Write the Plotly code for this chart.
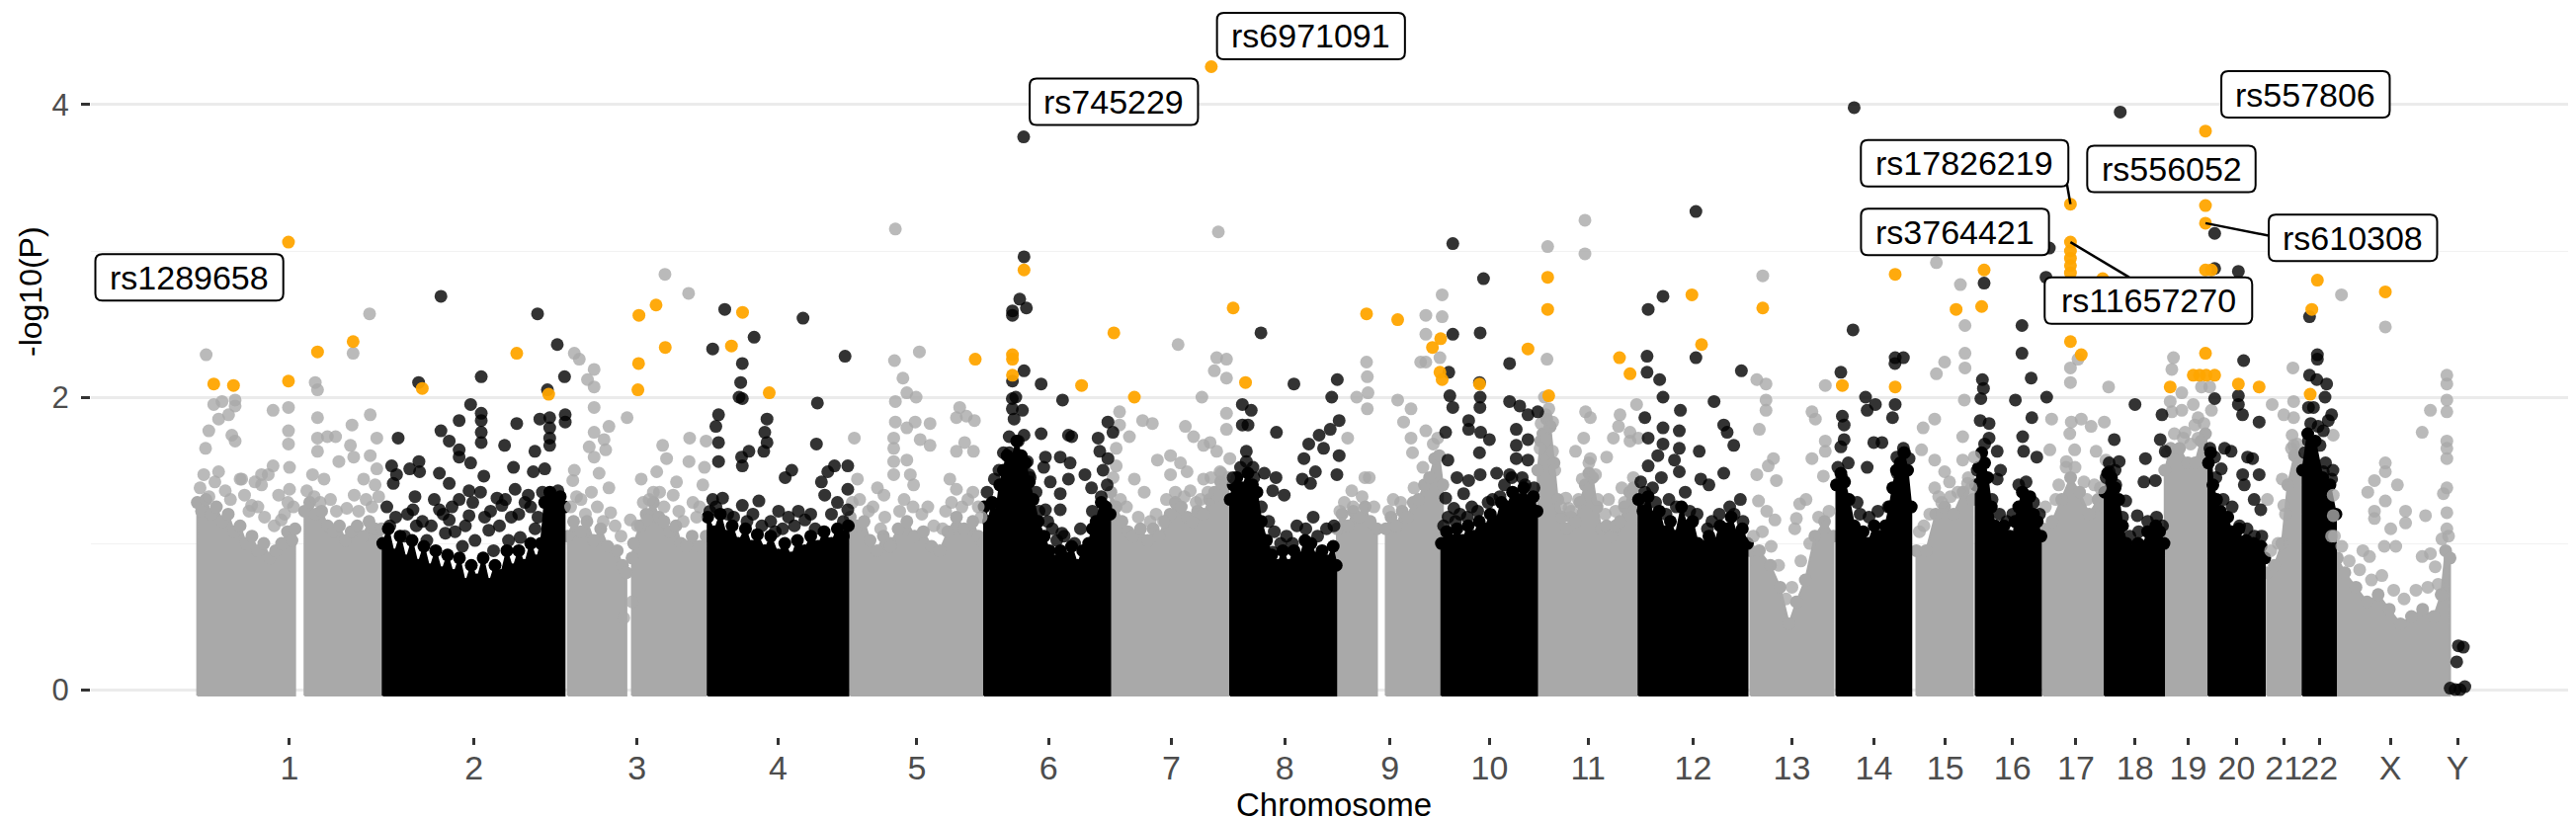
"""
Manhattan plot: -log10(P) along the genome, suggestive SNPs in orange, top hits labelled
"""
import plotly.graph_objects as go

############ DATA ############
# x = cumulative genome position (Mb), y = -log10(P)

CHROMS = ['1', '2', '3', '4', '5', '6', '7', '8', '9', '10', '11', '12',
          '13', '14', '15', '16', '17', '18', '19', '20', '21', '22', 'X', 'Y']

# top edge of the dense cloud of each chromosome (None = gap, e.g. centromere)
ENV_1 = [(2.2, 1.28), (8, 1.22), (14, 1.3), (21, 1.2), (28, 1.25), (36, 1.15), (44, 1.2), (52, 1.08), (60, 1.12),
         (68, 1.0), (76, 1.05), (84, 0.95), (92, 1.0), (100, 0.9), (108, 0.95), (116, 1.0), (124, 1.08), (130, 1.02),
         (134.2, 1.1), None, (147, 1.22), (154, 1.28), (162, 1.2), (170, 1.22), (178, 1.12), (186, 1.08),
         (194, 1.12), (202, 1.02), (210, 1.08), (218, 1.12), (226, 1.05), (234, 1.15), (242, 1.1), (251, 1.1)]
ENV_2 = [(252.5, 1.0), (260, 1.1), (268, 0.92), (276, 1.05), (284, 0.88), (292, 1.02), (300, 0.85), (308, 0.98),
         (316, 0.82), (324, 0.95), (332, 0.8), (340, 0.92), (348, 0.78), (356, 0.9), (364, 0.72), (372, 0.85),
         (380, 0.75), (388, 0.9), (396, 0.72), (404, 0.85), (412, 0.78), (420, 0.95), (428, 0.82), (436, 0.95),
         (444, 0.85), (452, 1.0), (460, 0.88), (466, 1.0), (471, 1.28), (478, 1.35), (485, 1.28), (492, 1.32),
         (497.8, 1.25)]
ENV_3 = [(502.2, 1.05), (510, 1.15), (520, 1.08), (528, 1.15), (537, 1.02), (546.6, 1.1), (556, 0.98),
         (568.8, 0.95), (576, 0.85), (581.2, 0.8), None, (588.8, 0.9), (591, 1.0), (600, 1.12), (608, 1.2),
         (617.7, 1.28), (625, 1.18), (632, 1.15), (640, 1.08), (648, 1.12), (655, 1.0), (662, 0.98), (670, 1.05),
         (680, 0.98), (688.8, 1.05)]
ENV_4 = [(691, 1.18), (700, 1.08), (708, 1.2), (716, 1.05), (724, 1.12), (732, 1.0), (742, 1.1), (750, 0.98),
         (758, 1.06), (768, 0.95), (776, 1.05), (786, 0.92), (795, 1.0), (804, 0.9), (812, 1.02), (822, 0.95),
         (830, 1.05), (840, 0.98), (848, 1.08), (858, 1.0), (866, 1.1), (874, 1.05), (880.7, 1.12)]
ENV_5 = [(883.3, 1.18), (892, 1.12), (902, 1.15), (910, 1.02), (919.7, 0.95), (928, 1.05), (937.7, 1.0),
         (948, 1.1), (959.7, 1.15), (970, 1.05), (982, 1.08), (993, 0.98), (1004, 0.95), (1015, 1.08),
         (1026.6, 1.18), (1037, 1.1), (1048.8, 1.15), (1056, 1.05), (1063, 1.0)]
ENV_6 = [(1064, 1.25), (1070, 1.15), (1075, 1.28), (1080, 1.2), (1085, 1.4), (1090, 1.5), (1095, 1.6),
         (1100, 1.55), (1108, 1.7), (1114, 1.6), (1120, 1.55), (1125, 1.42), (1130, 1.3), (1137, 1.15),
         (1145, 1.05), (1152, 0.95), (1160, 0.88), (1167, 0.95), (1175, 0.9), (1182, 0.98), (1190, 0.85),
         (1197, 0.95), (1205, 1.0), (1210, 1.1), (1215, 1.15), (1222, 1.28), (1228, 1.25), (1234, 1.2)]
ENV_7 = [(1235, 1.35), (1242, 1.25), (1250, 1.15), (1258, 1.08), (1265, 1.05), (1275, 1.1), (1285, 1.02),
         (1292, 1.1), (1300, 1.05), (1308, 1.15), (1315, 1.2), (1322, 1.28), (1330, 1.25), (1338, 1.18),
         (1345, 1.15), (1352, 1.22), (1360, 1.2), (1368, 1.3), (1375, 1.35), (1383, 1.42), (1390, 1.4), (1398, 1.3)]
ENV_8 = [(1396, 1.3), (1400, 1.4), (1405, 1.45), (1412, 1.38), (1420, 1.48), (1426, 1.4), (1432, 1.35),
         (1438, 1.15), (1445, 1.02), (1452, 0.92), (1460, 0.85), (1467, 0.95), (1475, 0.85), (1482, 0.95),
         (1490, 0.9), (1497, 1.02), (1505, 1.0), (1512, 0.9), (1520, 0.95), (1527, 0.88), (1535, 0.98), (1539, 0.85)]
ENV_9 = [(1540, 1.1), (1547, 1.2), (1555, 1.12), (1562, 1.22), (1570, 1.18), (1578, 1.25), (1585, 1.15),
         (1594, 1.1), None, (1606, 1.1), (1613, 1.18), (1620, 1.12), (1628, 1.22), (1635, 1.18), (1643, 1.28),
         (1650, 1.3), (1658, 1.4), (1665, 1.45), (1672, 1.58), (1678, 1.6), (1683, 1.4)]
ENV_10 = [(1681, 1.0), (1688, 1.08), (1695, 1.02), (1702, 1.1), (1710, 1.02), (1717, 1.12), (1725, 1.05),
          (1732, 1.15), (1740, 1.1), (1747, 1.2), (1755, 1.15), (1762, 1.28), (1770, 1.25), (1777, 1.35),
          (1785, 1.3), (1792, 1.38), (1800, 1.28), (1805, 1.32), (1810, 1.22)]
ENV_11 = [(1811, 1.5), (1815, 1.7), (1818, 1.75), (1823, 1.85), (1828, 1.8), (1833, 1.55), (1838, 1.3),
          (1844, 1.18), (1850, 1.1), (1856, 1.18), (1862, 1.15), (1868, 1.28), (1875, 1.4), (1880, 1.48),
          (1885, 1.45), (1891, 1.25), (1897, 1.1), (1904, 1.12), (1910, 1.05), (1916, 1.12), (1922, 1.15),
          (1928, 1.25), (1935, 1.35), (1940, 1.38), (1945, 1.3)]
ENV_12 = [(1947, 1.3), (1953, 1.22), (1960, 1.32), (1967, 1.18), (1975, 1.22), (1982, 1.08), (1990, 1.15),
          (1997, 1.05), (2005, 1.25), (2012, 1.12), (2020, 1.15), (2027, 1.0), (2035, 0.98), (2042, 1.05),
          (2050, 1.0), (2057, 1.12), (2065, 1.1), (2072, 1.18), (2080, 1.05), (2087, 1.1), (2094, 1.0)]
ENV_13 = [(2098, 0.95), (2110, 0.95), (2125, 0.85), (2138, 0.7), (2150, 0.45), (2160, 0.6), (2172, 0.75),
          (2185, 1.05), (2198, 1.15), (2210, 1.05)]
ENV_14 = [(2214, 1.4), (2220, 1.48), (2225, 1.42), (2231, 1.3), (2238, 1.12), (2244, 1.05), (2250, 1.08),
          (2257, 1.0), (2265, 1.12), (2272, 1.05), (2280, 1.12), (2286, 1.25), (2290, 1.38), (2295, 1.5),
          (2300, 1.55), (2305, 1.62), (2310, 1.5), (2315, 1.25)]
ENV_15 = [(2322, 0.95), (2335, 0.95), (2348, 1.2), (2360, 1.25), (2372, 1.2), (2385, 1.35), (2398, 1.3)]
ENV_16 = [(2402, 1.4), (2406, 1.52), (2410, 1.62), (2414, 1.55), (2418, 1.45), (2423, 1.25), (2428, 1.12),
          (2434, 1.08), (2440, 1.12), (2444, 1.02), (2448, 1.05), (2452, 1.0), (2455, 1.15), (2460, 1.25),
          (2465, 1.35), (2470, 1.28), (2475, 1.32), (2480, 1.2), (2485, 1.15), (2490, 1.05)]
ENV_17 = [(2493, 1.1), (2505, 1.15), (2518, 1.3), (2530, 1.45), (2542, 1.35), (2555, 1.2), (2567, 1.3), (2575, 1.25)]
ENV_18 = [(2576, 1.35), (2580, 1.48), (2585, 1.45), (2590, 1.38), (2595, 1.3), (2600, 1.12), (2605, 1.0),
          (2610, 0.95), (2615, 0.9), (2621, 1.0), (2628, 0.98), (2634, 1.08), (2640, 1.02), (2645, 1.12),
          (2650, 1.08), (2656, 1.0)]
ENV_19 = [(2657, 1.5), (2665, 1.65), (2677, 1.65), (2688, 1.55), (2698, 1.55), (2706, 1.7), (2712, 1.75), (2715, 1.6)]
ENV_20 = [(2716, 1.55), (2719, 1.62), (2722, 1.4), (2727, 1.3), (2732, 1.22), (2737, 1.15), (2742, 1.18),
          (2747, 1.08), (2752, 1.05), (2757, 1.1), (2762, 1.0), (2767, 1.02), (2772, 0.95), (2777, 1.0),
          (2782, 0.95), (2787, 0.98), (2792, 0.9)]
ENV_21 = [(2795, 0.8), (2805, 0.85), (2815, 1.0), (2823, 1.4), (2832, 1.6), (2840, 1.55)]
ENV_22 = [(2843, 1.5), (2850, 1.75), (2860, 1.7), (2870, 1.45), (2880, 1.4), (2888, 1.2)]
ENV_X = [(2881, 0.95), (2890, 0.9), (2900, 0.8), (2915, 0.7), (2930, 0.6), (2945, 0.65), (2960, 0.55),
         (2975, 0.45), (2990, 0.5), (3005, 0.55), (3020, 0.5), (3030, 0.65), (3036, 0.95), (3042, 0.9)]
ENV_Y = []

# SNPs standing out of the dense cloud
SNP_1 = [(14.2, 2.29), (161.4, 2.10), (164.5, 2.05), (212.5, 2.30), (234.7, 2.57), (24.5, 1.95), (35.6, 1.97),
         (53.3, 1.98), (53.3, 1.94), (44.5, 1.88), (31.1, 1.85), (104.5, 1.91), (125.3, 1.93), (235.6, 1.88),
         (164.5, 1.86), (211, 1.81), (125.3, 1.77), (125.3, 1.68), (244.5, 1.72), (208.9, 1.67), (213.3, 1.59),
         (17.8, 1.77), (13.4, 1.65), (48.9, 1.74), (53.3, 1.70), (164.5, 1.72), (177.8, 1.73), (188.9, 1.73),
         (164.5, 1.63), (104.5, 1.53), (88.9, 1.47), (62.2, 1.44), (80, 1.42), (126.7, 1.52), (126.7, 1.37),
         (235.6, 1.60), (244.5, 1.51), (11, 1.47), (31, 1.49), (60, 1.44), (89, 1.40), (98, 1.47), (124.5, 1.28),
         (157.8, 1.47), (173.3, 1.44), (193.3, 1.56), (226.7, 1.44), (242.2, 1.40), (75.6, 1.26), (115.6, 1.16),
         (6, 1.38), (18, 1.32), (26, 1.42), (40, 1.36), (47, 1.30), (66, 1.33), (72, 1.22), (84, 1.25),
         (93, 1.18), (106, 1.12), (112, 1.33), (120, 1.20), (132, 1.25), (150, 1.36), (160, 1.32), (168, 1.28),
         (182, 1.30), (190, 1.22), (204, 1.24), (214, 1.33), (220, 1.22), (230, 1.30), (238, 1.25), (247, 1.32)]
SNP_2 = [(331, 2.69), (461.4, 2.57), (488, 2.36), (497.8, 2.14), (385.4, 2.14), (300.9, 2.10), (474.7, 2.05),
         (371.1, 1.95), (385.4, 1.89), (385.4, 1.84), (385.4, 1.76), (385.4, 1.69), (355.6, 1.84), (331, 1.77),
         (433.3, 1.82), (464.5, 1.85), (477.8, 1.86), (477.8, 1.79), (477.8, 1.72), (477.8, 1.67), (498.7, 1.88),
         (498.7, 1.83), (273.3, 1.72), (342.2, 1.70), (355.6, 1.64), (355.6, 1.59), (416.9, 1.67), (457.8, 1.63),
         (301.3, 1.56), (264.5, 1.53), (288.9, 1.51), (302.2, 1.49), (328.9, 1.48), (342.2, 1.41), (371.1, 1.55),
         (388.9, 1.46), (428.9, 1.52), (455.6, 1.49), (471.1, 1.51), (266.7, 1.41), (271.1, 1.47), (368.9, 1.36),
         (384.4, 1.35), (406.7, 1.31), (431.1, 1.37), (448.9, 1.33), (488.9, 1.36), (293.3, 1.23), (328.9, 1.23),
         (355.6, 1.30), (368.9, 1.19), (413.3, 1.26), (444.4, 1.28), (297.8, 1.12), (342.2, 1.16), (395.6, 1.09),
         (422.2, 1.02), (262, 1.12), (282, 1.05), (312, 1.02), (337, 1.07), (360, 0.98), (377, 1.02), (402, 0.95),
         (438, 1.04), (458, 1.1), (258, 1.25), (270, 1.18), (286, 1.20), (296, 1.32), (306, 1.15), (318, 1.12),
         (322, 1.30), (334, 1.20), (346, 1.25), (350, 1.08), (364, 1.12), (374, 1.28), (390, 1.18), (398, 1.22),
         (410, 1.12), (418, 1.30), (426, 1.18), (436, 1.20), (452, 1.25), (462, 1.18), (468, 1.35)]
SNP_3 = [(633.3, 2.84), (665.2, 2.71), (511, 2.30), (517.7, 2.26), (537.7, 2.19), (528.8, 2.12), (537.7, 2.07),
         (537.7, 1.93), (582.2, 1.86), (537.7, 1.76), (557.7, 1.80), (551.1, 1.71), (553.3, 1.64), (531.1, 1.66),
         (537.7, 1.59), (544.4, 1.48), (557.7, 1.38), (511, 1.50), (508.9, 1.43), (601.3, 1.44), (622.2, 1.49),
         (630.2, 1.67), (635.5, 1.58), (648.9, 1.42), (666.6, 1.72), (665.7, 1.56), (688.8, 1.70), (686.6, 1.52),
         (586.6, 1.16), (577.7, 0.49), (588.8, 0.60), (520, 1.30), (560, 1.21), (617.7, 1.35), (644.4, 1.33),
         (671, 1.28), (684.4, 1.40), (608.9, 1.16), (506, 1.25), (514, 1.32), (526, 1.20), (534, 1.35),
         (542, 1.25), (550, 1.15), (566, 1.12), (574, 1.05), (596, 1.12), (604, 1.28), (612, 1.3), (626, 1.35),
         (632, 1.25), (652, 1.22), (658, 1.15), (676, 1.18), (680, 1.25)]
SNP_4 = [(714, 2.60), (697.7, 2.33), (753.6, 2.41), (819.6, 2.54), (737.7, 2.23), (735.5, 2.10), (733.3, 2.0),
         (737.7, 1.99), (876.3, 2.28), (839, 1.96), (705.6, 1.88), (702, 1.80), (705.6, 1.69), (705.6, 1.56),
         (771, 1.85), (768, 1.76), (771, 1.69), (766.6, 1.63), (746.6, 1.63), (736.7, 1.59), (737.7, 1.53),
         (837.7, 1.68), (804.4, 1.50), (795.5, 1.45), (862, 1.53), (853, 1.49), (844.4, 1.42), (848.9, 1.33),
         (880, 1.53), (880, 1.37), (880, 1.23), (711, 1.31), (697.7, 1.30), (737.7, 1.26), (760, 1.29),
         (786.6, 1.22), (813.3, 1.22), (822.2, 1.16), (694, 1.22), (702, 1.25), (718, 1.2), (726, 1.18),
         (744, 1.15), (752, 1.2), (764, 1.12), (776, 1.15), (782, 1.08), (792, 1.1), (800, 1.18), (808, 1.12),
         (830, 1.2), (836, 1.1), (858, 1.2), (866, 1.28), (874, 1.15)]
SNP_5 = [(944.2, 3.15), (943, 2.25), (976.6, 2.31), (954.4, 2.13), (959.7, 2.03), (972.2, 2.0), (944.2, 1.97),
         (944.2, 1.83), (959.7, 1.79), (970.9, 1.83), (991, 1.82), (1031, 1.93), (1026.6, 1.86), (1040, 1.87),
         (1050.9, 1.84), (1037.7, 1.69), (1026.6, 1.63), (1049.6, 1.63), (942, 1.72), (942, 1.65), (959.7, 1.57),
         (977.7, 1.71), (991, 1.67), (888.8, 1.72), (942, 1.56), (942, 1.47), (964.4, 1.47), (968.8, 1.40),
         (893, 1.44), (920, 1.38), (928.8, 1.33), (1017.7, 1.44), (1026.6, 1.37), (1048.8, 1.35), (924.4, 1.10),
         (937.7, 0.98), (886, 1.28), (896, 1.3), (908, 1.22), (914, 1.25), (930, 1.18), (950, 1.22), (956, 1.3),
         (968, 1.25), (980, 1.2), (988, 1.25), (996, 1.12), (1008, 1.1), (1012, 1.22), (1020, 1.28),
         (1034, 1.25), (1042, 1.3), (1056, 1.25), (1060, 1.18)]
SNP_6 = [(1117.3, 3.78), (1117.8, 2.96), (1112, 2.67), (1121, 2.61), (1102.2, 2.59), (1102.2, 2.56), (1102.2, 2.11),
         (1117.8, 2.18), (1140.9, 2.09), (1169.8, 1.98), (1102, 1.99), (1106.7, 2.0), (1102, 1.92), (1115.6, 1.91),
         (1104.4, 1.85), (1097.8, 1.73), (1117.8, 1.74), (1140.9, 1.75), (1177.8, 1.74), (1182.2, 1.73),
         (1217.8, 1.72), (1231, 1.83), (1237.8, 1.76), (1146.7, 1.59), (1144.4, 1.52), (1166.7, 1.59), (1180, 1.55),
         (1220, 1.63), (1231, 1.58), (1153.3, 1.42), (1177.8, 1.44), (1200, 1.47), (1208.9, 1.38), (1224.4, 1.50),
         (1122.2, 1.56), (1124.4, 1.47), (1077.8, 1.44), (1073.3, 1.27), (1080, 1.19), (1166.7, 1.34),
         (1166.7, 1.23), (1146.7, 1.23), (1168.9, 1.07), (1068, 1.35), (1084, 1.5), (1090, 1.62), (1098, 1.62),
         (1110, 1.7), (1126, 1.45), (1134, 1.35), (1138, 1.22), (1150, 1.15), (1156, 1.1), (1162, 1.02),
         (1172, 1.05), (1186, 1.0), (1194, 1.1), (1210, 1.22), (1222, 1.32), (1230, 1.4)]
SNP_7 = [(1380, 3.13), (1325.7, 2.36), (1377.8, 2.27), (1391, 2.26), (1374.6, 2.18), (1391, 2.13), (1357.8, 2.0),
         (1391, 1.89), (1391, 1.78), (1246.7, 1.90), (1246.7, 1.81), (1260, 1.73), (1277.8, 1.84), (1291, 1.82),
         (1335.5, 1.80), (1346.6, 1.73), (1360, 1.67), (1368.9, 1.69), (1242.2, 1.65), (1242.2, 1.53),
         (1297.8, 1.57), (1315.5, 1.60), (1328.9, 1.55), (1337.8, 1.49), (1377.8, 1.63), (1395.5, 1.58),
         (1382.2, 1.49), (1266.7, 1.44), (1280, 1.35), (1315.5, 1.47), (1342.2, 1.36), (1360, 1.44), (1377.8, 1.33),
         (1238, 1.45), (1248, 1.3), (1256, 1.25), (1272, 1.18), (1288, 1.15), (1296, 1.2), (1306, 1.15),
         (1310, 1.3), (1322, 1.35), (1334, 1.32), (1350, 1.28), (1356, 1.3), (1366, 1.35), (1370, 1.45),
         (1384, 1.48), (1394, 1.45)]
SNP_8 = [(1437.5, 2.44), (1482, 2.09), (1540.5, 2.12), (1533, 2.0), (1412.4, 1.95), (1424.4, 1.91), (1412.4, 1.81),
         (1420, 1.81), (1458.4, 1.76), (1543, 1.84), (1531, 1.78), (1516, 1.74), (1502, 1.68), (1522, 1.65),
         (1543, 1.60), (1495.5, 1.58), (1511, 1.49), (1417.8, 1.63), (1426.7, 1.52), (1417.8, 1.56), (1442, 1.48),
         (1457.8, 1.45), (1468.9, 1.33), (1453.3, 1.36), (1493.3, 1.44), (1504.4, 1.41), (1540, 1.47),
         (1455.5, 1.08), (1453.3, 0.94), (1400, 1.45), (1410, 1.52), (1428, 1.45), (1438, 1.25), (1448, 1.15),
         (1464, 1.0), (1472, 1.05), (1480, 1.0), (1486, 1.12), (1498, 1.1), (1508, 1.18), (1514, 1.05),
         (1526, 1.1), (1536, 1.12)]
SNP_9 = [(1580, 2.24), (1581, 2.14), (1582, 2.03), (1581, 1.92), (1566.7, 2.0), (1622, 1.98), (1640, 1.92),
         (1630, 1.83), (1640, 1.72), (1642, 1.62), (1554.5, 1.72), (1560, 1.36), (1577.8, 1.45), (1583.6, 1.45),
         (1653, 2.24), (1682, 2.70), (1660, 2.56), (1682, 2.55), (1660, 2.43), (1660, 2.24), (1679, 2.27),
         (1660, 1.77), (1544, 1.22), (1550, 1.28), (1562, 1.25), (1574, 1.32), (1590, 1.25), (1610, 1.22),
         (1616, 1.3), (1626, 1.28), (1644, 1.38), (1656, 1.52), (1670, 1.68), (1676, 1.72)]
SNP_10 = [(1691, 2.17), (1696.4, 3.05), (1737.8, 2.81), (1696.4, 2.43), (1733.3, 2.44), (1732.4, 2.10), (1773, 2.23),
          (1692.4, 2.01), (1696.4, 1.93), (1686.7, 1.76), (1689.8, 1.57), (1733.3, 2.0), (1733, 1.93),
          (1717.8, 1.84), (1717.8, 1.78), (1734, 1.76), (1745.8, 1.71), (1732.4, 1.62), (1773, 1.97),
          (1786.7, 1.94), (1797.8, 1.88), (1811, 1.90), (1782, 1.78), (1797.8, 1.71), (1782, 1.67), (1782, 1.58),
          (1797.8, 1.57), (1773, 1.47), (1755.5, 1.48), (1733.3, 1.47), (1702, 1.45), (1717.8, 1.43),
          (1686.7, 1.31), (1697.8, 1.24), (1711, 1.34), (1684, 1.12), (1690, 1.18), (1700, 1.15), (1706, 1.2),
          (1716, 1.18), (1722, 1.25), (1730, 1.22), (1744, 1.28), (1750, 1.3), (1760, 1.32), (1766, 1.4),
          (1776, 1.45), (1790, 1.45), (1794, 1.4), (1806, 1.38)]
SNP_11 = [(1874.7, 3.21), (1874.7, 2.98), (1824.4, 3.03), (1823.5, 2.26), (1944.4, 1.95), (1820, 2.0),
          (1875.5, 1.90), (1882, 1.86), (1922, 1.88), (1920, 1.80), (1935.5, 1.76), (1815.5, 1.82), (1831, 1.83),
          (1822, 1.71), (1831, 1.63), (1862, 1.63), (1873, 1.72), (1882, 1.58), (1904, 1.59), (1913, 1.72),
          (1935.5, 1.70), (1946.7, 1.72), (1848.9, 1.31), (1853, 1.24), (1906.6, 1.30), (1924.4, 1.38),
          (1871, 1.44), (1888.9, 1.47), (1814, 1.65), (1822, 1.88), (1826, 1.92), (1834, 1.5), (1842, 1.25),
          (1856, 1.22), (1866, 1.3), (1880, 1.55), (1892, 1.3), (1902, 1.2), (1916, 1.22), (1928, 1.28),
          (1940, 1.45)]
SNP_12 = [(2024.4, 3.27), (1980, 2.69), (1960, 2.60), (2024.4, 2.27), (1958.5, 2.28), (1958.5, 2.17),
          (1975.5, 2.12), (1980, 2.0), (2085.8, 2.18), (2048.9, 1.97), (2003.5, 1.91), (1955.5, 1.86), (1960, 1.72),
          (1980, 1.79), (1980, 1.68), (2002, 1.77), (2002, 1.65), (2028.9, 1.63), (2062, 1.81), (2075.5, 1.67),
          (2066.6, 1.76), (1973, 1.60), (1995.5, 1.57), (2002, 1.49), (2031, 1.44), (2042, 1.40), (2062, 1.48),
          (2084.4, 1.30), (1960, 1.53), (1977.8, 1.45), (1955.5, 1.35), (1950, 1.42), (1954, 1.25), (1966, 1.38),
          (1970, 1.28), (1984, 1.2), (1988, 1.3), (1998, 1.25), (2010, 1.35), (2016, 1.22), (2026, 1.2),
          (2040, 1.1), (2046, 1.15), (2056, 1.2), (2070, 1.25), (2076, 1.2), (2088, 1.15)]
SNP_13 = [(2114.6, 2.83), (2106.6, 2.12), (2119, 2.09), (2119, 1.98), (2119, 1.91), (2110, 1.78), (2199, 2.08),
          (2181, 1.90), (2185.6, 1.85), (2199, 1.70), (2199, 1.63), (2181, 1.58), (2196.4, 1.46), (2106.6, 1.47),
          (2122, 1.53), (2129, 1.58), (2133, 1.43), (2108.9, 1.29), (2120, 1.22), (2131, 1.16), (2160, 1.17),
          (2157.8, 1.10), (2164.4, 1.27), (2173, 1.30), (2102, 1.05), (2114, 1.08), (2126, 0.98), (2136, 0.85),
          (2146, 0.62), (2154, 0.7), (2166, 0.88), (2178, 1.0), (2190, 1.18), (2204, 1.22)]
SNP_14 = [(2237.9, 3.98), (2220, 2.17), (2236.4, 2.46), (2293.3, 2.27), (2304.4, 2.27), (2293, 2.23),
          (2253.3, 2.0), (2266.6, 1.95), (2255.5, 1.91), (2293.3, 1.95), (2289.7, 1.86), (2222, 1.87),
          (2224.4, 1.81), (2224.4, 1.71), (2220, 1.66), (2264.4, 1.69), (2275.5, 1.69), (2255.5, 1.52),
          (2295.5, 1.59), (2304.4, 1.65), (2221.3, 1.45), (2216, 1.52), (2230, 1.55), (2242, 1.28), (2246, 1.2),
          (2258, 1.18), (2270, 1.22), (2284, 1.25), (2296, 1.48), (2306, 1.62), (2312, 1.58)]
SNP_15 = [(2348.9, 2.92), (2381.3, 2.77), (2387.5, 2.49), (2387.5, 2.30), (2387.5, 2.20), (2360, 2.24),
          (2348.9, 2.16), (2386.6, 1.98), (2346.6, 1.85), (2331, 1.79), (2384.4, 1.73), (2328.9, 1.64),
          (2384.4, 1.57), (2346.6, 1.57), (2400, 1.59), (2360, 1.49), (2346.6, 1.38), (2366.6, 1.42), (2391, 1.41),
          (2326, 1.08), (2332, 1.12), (2340, 1.2), (2352, 1.32), (2356, 1.28), (2368, 1.32), (2378, 1.35),
          (2392, 1.45), (2396, 1.38)]
SNP_16 = [(2413.3, 2.78), (2411, 2.12), (2412.4, 2.06), (2408.9, 1.99), (2408, 1.84), (2420, 1.82), (2420, 1.72),
          (2431, 1.63), (2435.5, 1.50), (2431, 1.44), (2464.4, 2.49), (2464.4, 2.30), (2476.8, 2.13),
          (2455.5, 1.98), (2477.7, 1.86), (2465.3, 1.73), (2466.6, 1.63), (2484.4, 1.59), (2497.7, 2.0),
          (2501.3, 3.02), (2496.8, 2.82), (2404, 1.5), (2414, 1.68), (2424, 1.3), (2434, 1.2), (2444, 1.15),
          (2452, 1.2), (2460, 1.4), (2470, 1.42), (2480, 1.28), (2488, 1.2)]
SNP_17 = [(2529.8, 2.20), (2529.8, 2.10), (2540, 2.26), (2581.3, 2.07), (2504.4, 1.85), (2531, 1.83),
          (2544.4, 1.85), (2557.7, 1.80), (2575.5, 1.83), (2528.9, 1.75), (2502, 1.64), (2535.5, 1.64),
          (2564.4, 1.63), (2577.7, 1.57), (2524.4, 1.56), (2496, 1.25), (2510, 1.3), (2514, 1.4), (2524, 1.52),
          (2536, 1.52), (2548, 1.42), (2552, 1.3), (2562, 1.4), (2570, 1.38)]
SNP_18 = [(2597, 3.95), (2616.9, 1.95), (2588.9, 1.71), (2595.5, 1.56), (2604.4, 1.29), (2631, 1.58),
          (2628.9, 1.42), (2644.4, 1.43), (2653.3, 1.88), (2651, 1.71), (2657.7, 1.63), (2582.2, 1.49),
          (2591, 1.40), (2620, 1.19), (2578, 1.45), (2582, 1.55), (2590, 1.5), (2600, 1.18), (2610, 1.05),
          (2622, 1.08), (2634, 1.15), (2646, 1.18), (2654, 1.12)]
SNP_19 = [(2668.8, 2.27), (2666.6, 2.19), (2680, 2.03), (2695.5, 1.95), (2664.4, 1.97), (2666.6, 1.90),
          (2680, 1.91), (2702, 1.86), (2720, 1.91), (2684.4, 1.76), (2697.7, 1.81), (2706.6, 2.07), (2717.7, 2.07),
          (2660, 1.62), (2670, 1.75), (2682, 1.72), (2692, 1.68), (2702, 1.72), (2710, 1.82)]
SNP_20 = [(2724.4, 3.12), (2724.4, 2.88), (2756.4, 2.86), (2763.5, 2.25), (2724.4, 1.99), (2756.4, 2.01),
          (2756.4, 1.95), (2762, 1.88), (2784.4, 1.83), (2737.8, 1.65), (2746.6, 1.63), (2768.8, 1.59),
          (2775.5, 1.58), (2762.2, 1.47), (2784.4, 1.47), (2724.4, 1.59), (2733.3, 1.51), (2764.4, 1.40),
          (2777.7, 1.30), (2786.6, 1.23), (2718, 1.65), (2726, 1.45), (2736, 1.3), (2748, 1.25), (2758, 1.12),
          (2768, 1.1), (2778, 1.05), (2788, 1.05)]
SNP_21 = [(2830, 2.20), (2802, 1.95), (2817.7, 1.88), (2831, 1.97), (2831, 1.86), (2828.9, 1.74), (2831, 1.67),
          (2815.5, 1.44), (2795.5, 1.30), (2817.7, 1.26), (2800, 0.95), (2810, 1.0), (2820, 1.2), (2828, 1.65),
          (2836, 1.68)]
SNP_22 = [(2852.4, 2.55), (2863, 2.29), (2863, 2.26), (2852.4, 2.15), (2862.2, 2.12), (2875.5, 2.09),
          (2851, 1.93), (2857.7, 1.93), (2873.3, 2.0), (2882.2, 1.88), (2877.7, 1.84), (2871, 1.77), (2851, 1.70),
          (2866.6, 1.67), (2853.3, 1.56), (2871, 1.49), (2882.2, 1.44), (2846, 1.62), (2854, 1.82), (2864, 1.8),
          (2874, 1.55), (2884, 1.5)]
SNP_X = [(2954.7, 2.48), (2895.5, 2.70), (2884.4, 1.74), (3037.7, 2.15), (3037.7, 2.09), (3037.7, 1.98),
         (3037.7, 1.90), (3015.5, 1.91), (3004.4, 1.76), (3037.7, 1.70), (3037.7, 1.65), (3037.7, 1.58),
         (3037.7, 1.38), (3033, 1.34), (2954.7, 1.55), (2954.7, 1.49), (2940, 1.43), (2931, 1.35), (2971, 1.40),
         (2954.7, 1.29), (2940, 1.22), (2940, 1.17), (2982, 1.22), (2982, 1.14), (3008.9, 1.19), (2962, 1.10),
         (2953.3, 0.98), (2924.4, 0.95), (2933.3, 0.91), (2968.8, 0.98), (3004.4, 0.91), (3015.5, 0.93),
         (3022, 0.84), (3037.7, 1.21), (3037.7, 1.10), (3031, 1.03), (2884.4, 1.33), (2884.4, 1.19), (2882.2, 1.05),
         (2886, 1.05), (2896, 0.98), (2906, 0.88), (2920, 0.82), (2936, 0.75), (2950, 0.78), (2966, 0.68),
         (2980, 0.62), (2996, 0.68), (3012, 0.7), (3026, 0.72), (3040, 1.05)]
SNP_Y = [(3053.3, 0.30), (3060, 0.29), (3051, 0.19), (3042.2, 0.01), (3055.5, 0.0), (3062, 0.02), (3049, 0.0)]

# highlighted (orange) SNPs
HIT_X = [125.3, 24.5, 51.1, 125.3, 164.5, 212.5, 305.8, 433.3, 476.4, 598.2, 621.3, 633.7, 597.7, 596.8,
         738, 723, 774, 1052, 1117.8, 1102.2, 1102.2, 1102.2, 1195.5, 1239, 1266.7, 1370.5, 1400, 1416.7,
         1580, 1622, 1668.9, 1680, 1679, 1682, 1732.4, 1797.8, 1824.4, 1824.4, 1825.8, 1921.3, 1935.5,
         2019, 2032, 2114.6, 2222, 2293.3, 2293.3, 2375.5, 2410, 2413.3,
         2529.8, 2529.8, 2529.8, 2529.8, 2529.8, 2529.8, 2529.8, 2544.4, 2573.3,
         2712, 2712, 2712, 2712, 2720, 2712, 2695.5, 2704, 2713, 2724.4, 2664.4, 2756.4, 2784.4,
         2863, 2855.5, 2853.3, 2954.7]
HIT_P = [3.06, 2.09, 2.08, 2.11, 2.31, 2.38, 2.06, 2.30, 2.02, 2.56, 2.63, 2.34, 2.23, 2.05,
         2.58, 2.35, 2.03, 2.26, 2.87, 2.29, 2.26, 2.15, 2.08, 2.44, 2.0, 4.26, 2.61, 2.10,
         2.57, 2.53, 2.34, 2.40, 2.17, 2.12, 2.09, 2.33, 2.82, 2.60, 2.01, 2.27, 2.16,
         2.70, 2.36, 2.61, 2.08, 2.84, 2.07, 2.60, 2.62, 2.87,
         3.32, 3.06, 3.0, 2.95, 2.9, 2.85, 2.38, 2.29, 2.81,
         3.82, 3.31, 3.19, 2.87, 2.87, 2.30, 2.15, 2.15, 2.15, 2.15, 2.07, 2.09, 2.07,
         2.80, 2.60, 2.02, 2.72]

# labelled SNPs
LABEL_RS = ['rs1289658', 'rs745229', 'rs6971091', 'rs17826219', 'rs3764421', 'rs11657270',
            'rs556052', 'rs557806', 'rs610308']
LABEL_X = [125.3, 1117.3, 1370.5, 2529.8, 2501.3, 2529.8, 2712, 2712, 2712]
LABEL_P = [3.06, 3.78, 4.26, 3.32, 3.02, 3.06, 3.31, 3.82, 3.19]

ENVS = [ENV_1, ENV_2, ENV_3, ENV_4, ENV_5, ENV_6, ENV_7, ENV_8, ENV_9, ENV_10, ENV_11, ENV_12,
        ENV_13, ENV_14, ENV_15, ENV_16, ENV_17, ENV_18, ENV_19, ENV_20, ENV_21, ENV_22, ENV_X, ENV_Y]
SNPS = [SNP_1, SNP_2, SNP_3, SNP_4, SNP_5, SNP_6, SNP_7, SNP_8, SNP_9, SNP_10, SNP_11, SNP_12,
        SNP_13, SNP_14, SNP_15, SNP_16, SNP_17, SNP_18, SNP_19, SNP_20, SNP_21, SNP_22, SNP_X, SNP_Y]

############ LAYOUT / STYLE ############
# label box centres (x, y) and where the leader segment leaves the box (None = no segment)
LABEL_BOX = [(-8.5, 2.82), (1239, 4.02), (1505, 4.47), (2387, 3.60), (2374, 3.13), (2635, 2.66),
             (2666, 3.56), (2847, 4.07), (2911, 3.09)]
LABEL_SEG = [None, None, None, (2524, 3.49), None, (2609, 2.82), None, None, (2802, 3.10)]

GREY = '#A9A9A9'
BLACK = '#000000'
ORANGE = '#FFA500'
BASE = -0.04  # bottom of the dot cloud (dot radius below 0)
DOT = 13
FONT = 'Liberation Sans, Arial, Helvetica, sans-serif'
W, H = 2607, 828
L, R, T, B = 84, 7, 0, 90
BOX_H, BOX_R = 47, 7


def cloud_xy(env):
    """closed polygons (one per segment) following the top edge of a cloud"""
    xs, ys, seg = [], [], []
    for item in list(env) + [None]:
        if item is None:
            if seg:
                xs += [seg[0][0]] + [p[0] for p in seg] + [seg[-1][0], seg[0][0], None]
                ys += [BASE] + [p[1] for p in seg] + [BASE, BASE, None]
            seg = []
        else:
            seg.append(item)
    return xs, ys


def round_box(w, h, r):
    """rounded rectangle path (pixels) centred on 0,0"""
    a, b = w / 2, h / 2
    return (f'M {-a + r},{-b} L {a - r},{-b} Q {a},{-b} {a},{-b + r} L {a},{b - r} Q {a},{b} {a - r},{b} '
            f'L {-a + r},{b} Q {-a},{b} {-a},{b - r} L {-a},{-b + r} Q {-a},{-b} {-a + r},{-b} Z')


fig = go.Figure()

# dense clouds
for colour, parity in [(GREY, 0), (BLACK, 1)]:
    cx, cy = [], []
    for i, env in enumerate(ENVS):
        if i % 2 == parity:
            a, b = cloud_xy(env)
            cx += a
            cy += b
    fig.add_trace(go.Scatter(x=cx, y=cy, mode='lines', fill='toself', fillcolor=colour,
                             line=dict(color=colour, width=2), hoverinfo='skip', showlegend=False))
    # the dots along the top edge
    ex = [e[0] for i, env in enumerate(ENVS) if i % 2 == parity for e in env if e is not None]
    ey = [e[1] for i, env in enumerate(ENVS) if i % 2 == parity for e in env if e is not None]
    fig.add_trace(go.Scatter(x=ex, y=ey, mode='markers', marker=dict(size=DOT, color=colour, line=dict(width=0)),
                             hoverinfo='skip', showlegend=False))

# individual SNPs
for colour, parity in [('rgba(169,169,169,0.8)', 0), ('rgba(0,0,0,0.8)', 1)]:
    px_, py_ = [], []
    for i, pts in enumerate(SNPS):
        if i % 2 == parity:
            px_ += [p[0] for p in pts]
            py_ += [p[1] for p in pts]
    fig.add_trace(go.Scatter(x=px_, y=py_, mode='markers',
                             marker=dict(size=DOT, color=colour, line=dict(width=0)), showlegend=False))

fig.add_trace(go.Scatter(x=HIT_X, y=HIT_P, mode='markers',
                         marker=dict(size=DOT, color=ORANGE, opacity=0.95, line=dict(width=0)), showlegend=False))

# leader segments
for seg, x, p in zip(LABEL_SEG, LABEL_X, LABEL_P):
    if seg is not None:
        fig.add_trace(go.Scatter(x=[seg[0], x], y=[seg[1], p], mode='lines',
                                 line=dict(color='black', width=2.5), showlegend=False, hoverinfo='skip'))

# chromosome tick positions = middle of each chromosome
tick_pos = []
for env, pts in zip(ENVS, SNPS):
    xs = [e[0] for e in env if e is not None] + [p[0] for p in pts]
    tick_pos.append((min(xs) + max(xs)) / 2)

# labels: rounded white boxes + text
shapes, annotations = [], []
for rs, box in zip(LABEL_RS, LABEL_BOX):
    shapes.append(dict(type='path', xref='x', yref='y', xsizemode='pixel', ysizemode='pixel',
                       xanchor=box[0], yanchor=box[1], path=round_box(19.8 * len(rs) + 12, BOX_H, BOX_R),
                       fillcolor='white', line=dict(color='black', width=2), layer='above'))
    annotations.append(dict(x=box[0], y=box[1], xref='x', yref='y', text=rs, showarrow=False,
                            font=dict(family=FONT, size=34, color='black'), xanchor='center', yanchor='middle'))

annotations.append(dict(x=(23 - L) / (W - L - R), y=1 - 287 / (H - T - B), xref='paper', yref='paper',
                        text='-log10(P)', textangle=-90, showarrow=False,
                        font=dict(family=FONT, size=32, color='black'), xanchor='center', yanchor='middle'))
annotations.append(dict(x=0.5, y=-(806 - (H - B)) / (H - T - B), xref='paper', yref='paper',
                        text='Chromosome', showarrow=False,
                        font=dict(family=FONT, size=33, color='black'), xanchor='center', yanchor='middle'))

fig.update_layout(
    width=W, height=H,
    margin=dict(l=L, r=R, t=T, b=B),
    plot_bgcolor='white', paper_bgcolor='white',
    shapes=shapes,
    annotations=annotations,
    xaxis=dict(range=[-141.3, 3213.3], tickvals=tick_pos, ticktext=CHROMS, tickangle=0,
               showgrid=False, zeroline=False, showline=False,
               ticks='outside', ticklen=7, tickwidth=2.5, tickcolor='#333333',
               tickfont=dict(family=FONT, size=34, color='#4D4D4D'), ticklabelstandoff=-6),
    yaxis=dict(range=[-0.324, 4.662], tickvals=[0, 2, 4], ticktext=['0', '2', '4'],
               showgrid=True, gridcolor='#EBEBEB', gridwidth=2.6, zeroline=False, showline=False,
               ticks='outside', ticklen=9, tickwidth=2.5, tickcolor='#333333',
               tickfont=dict(family=FONT, size=31, color='#4D4D4D'), ticklabelstandoff=6,
               minor=dict(tickvals=[1, 3], showgrid=True, gridcolor='#F2F2F2', gridwidth=1.3, ticks='')),
)

fig.write_html('out.html')
